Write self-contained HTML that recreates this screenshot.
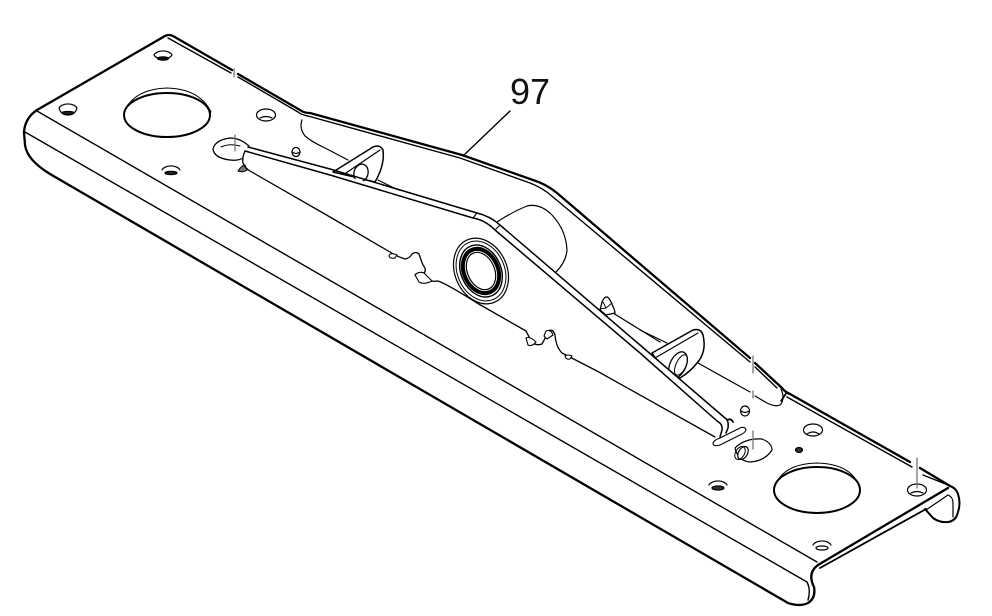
<!DOCTYPE html>
<html><head><meta charset="utf-8"><style>
html,body{margin:0;padding:0;background:#fff}
svg{display:block;filter:blur(.35px)}
text{font-family:"Liberation Sans",sans-serif}
</style></head><body>
<svg width="992" height="616" viewBox="0 0 992 616" xmlns="http://www.w3.org/2000/svg" fill="none" stroke="#000" stroke-linecap="round" stroke-linejoin="round">
<rect width="992" height="616" fill="#fff" stroke="none"/>

<!-- far flange hook (right end) -->
<path d="M925 509 L933 518 Q940 523 948 522 Q956 521 958 512 Q961 503 958 494 Q956 488 950 486" stroke-width="2" fill="#fff"/>
<path d="M948 495 Q953 497 953 503 L953 517" stroke-width="1.200"/>
<path d="M926 510 L948 495" stroke-width="1.200"/>

<!-- outer heavy outline -->
<g stroke-width="2.300">
<path d="M37 110 L165 36 Q169 34 173 36 L232 70 M238 74 L300 110 Q304 113 310 113 L462 155 L533 180 Q546 184 557 193 L750 358 M755 363 L782 388 Q785 392 790 394 L910 462 M920 468 L950 486"/>
<path d="M37 110 Q25 118 24 132 L25 145 Q27 160 50 174 L788 603 Q800 607 808 603 Q816 598 814 587 Q807 573 818 565 L948 488"/>
<path d="M820 568 L926 509" stroke-width="1.800"/>
</g>
<g stroke-width="1.400">
<path d="M37 111 L817 562"/>
<path d="M25 132 L807 582 Q811 590 808 600" />
<path d="M168 38 L231 73 M238 77 L298 112 Q302 115 308 116 L460 158 L530 183 Q543 188 553 197 L750 362 M755 367 L777 388"/>
<path d="M787 397 L912 467 M923 475 L948 485"/>
</g>

<!-- big holes -->
<ellipse cx="167" cy="115" rx="43" ry="22" stroke-width="2" fill="#fff"/>
<path d="M124 112 Q134 89 167 88 Q200 89 211 112" stroke-width="1.100"/>
<ellipse cx="817" cy="490" rx="43" ry="23" stroke-width="2" fill="#fff"/>
<path d="M774 490 Q780 464 817 463 Q854 464 860 490" stroke-width="1.100"/>

<!-- small holes -->
<g stroke-width="1.200">
<path d="M154 55 A9.500 6 0 0 1 172 55 A9.500 6 0 0 1 154 55Z" fill="#fff"/><ellipse cx="163" cy="58.500" rx="5.500" ry="1.700" fill="#111"/>
<path d="M59 108 A9.500 6 0 0 1 77 108" /><path d="M59 108 Q61 115 68 115 Q75 115 77 108"/><ellipse cx="68" cy="113" rx="6" ry="1.500" fill="#222"/>
<ellipse cx="266" cy="115" rx="9.500" ry="6"/><path d="M260 118 Q266 115 272 118"/>
<path d="M162 170 A9.500 6 0 0 1 180 170"/><ellipse cx="171" cy="173" rx="6" ry="1.600" fill="#222"/>
<path d="M709 485 A9.500 6 0 0 1 727 485"/><ellipse cx="718" cy="488" rx="6" ry="2" fill="#333"/>
<ellipse cx="813" cy="430" rx="9.500" ry="6"/><path d="M807 434 Q813 430 819 434"/>
<ellipse cx="917" cy="490" rx="9.500" ry="6"/><path d="M911 493 Q917 490 923 493"/>
<path d="M813 545 A9.500 6 0 0 1 831 545"/><ellipse cx="822" cy="548" rx="6" ry="2"/>
<ellipse cx="799" cy="450" rx="3.500" ry="2.500" fill="#333"/>
<ellipse cx="745" cy="411" rx="4.500" ry="5"/><path d="M741 411 Q745 414 749 411"/>
<ellipse cx="296" cy="152" rx="4" ry="4.500"/><path d="M292 152 Q296 155 300 152"/>
</g>

<!-- cut holes -->
<path d="M249 146 Q240 138 230 138 Q215 140 213 149 Q214 158 230 160 Q238 161 243 158" stroke-width="1.300" fill="#fff"/>
<path d="M221 147 Q230 143 240 146" stroke-width="1"/>
<path d="M238 171 Q241 166 245 165 L247 170 Q243 173 238 171Z" stroke-width="1" fill="#777"/>
<path d="M735 448 Q745 438 762 439 Q772 443 772 450 Q765 461 750 462 Q738 461 735 448Z" stroke-width="1.200" fill="#fff"/>
<ellipse cx="743" cy="453" rx="4.500" ry="7" transform="rotate(30 743 453)" stroke-width="1.200" fill="#fff"/>
<ellipse cx="740" cy="453" rx="4.500" ry="7" transform="rotate(30 740 453)" stroke-width="1"/>

<!-- lines behind arm -->
<g stroke-width="1.200">
<path d="M302 120 Q299 128 305 136 Q312 142 325 148 L348 160"/>
<path d="M378 180 L400 191"/>
<path d="M640 330 L667 343"/>
<path d="M698 363 L750 392 M755 396 L767 403 Q777 408 781 404 Q785 398 781 389"/>
<path d="M787 392 L781 401" stroke-width="1.600"/>
<path d="M613 313 L660 342"/>
</g>

<!-- upper bracket -->
<path d="M333 172 L373 147 Q380 144 383 150 Q385 165 375 182 L350 176Z" stroke-width="1.500" fill="#fff"/>
<path d="M346 173 L380 150" stroke-width="1.200"/>
<ellipse cx="361" cy="173" rx="7" ry="9" transform="rotate(15 361 173)" stroke-width="1.300" fill="#fff"/>
<!-- lower bracket -->
<path d="M652 353 L693 330 Q701 328 703 335 Q707 352 697 363 Q690 372 680 378 L665 372Z" stroke-width="1.500" fill="#fff"/>
<path d="M655 358 L698 333" stroke-width="1.200"/>
<ellipse cx="678" cy="365" rx="8" ry="14" transform="rotate(25 678 365)" stroke-width="1.300" fill="#fff"/>
<ellipse cx="681" cy="365" rx="5" ry="11" transform="rotate(25 681 365)" stroke-width="1"/>

<!-- cylinder -->
<path d="M497 222 Q512 212 527 206 Q540 203 552 215 Q566 230 567 250 Q566 262 556 272" stroke-width="1.200" fill="#fff"/>

<!-- arm body -->
<path d="M245 150 Q244 155 250 165 L385 250 L407 260 L415 252 L423 268 L415 277 L438 281 L527 333 L533 346 L555 337 L560 353 L640 396 L715 437 L728 420 L500 226 Q488 214 473 210 Z" fill="#fff" stroke="none"/>
<g stroke-width="1.500">
<path d="M248 147 L330 169 L477 213 Q490 216 500 225 L640 345 L725 418"/>
<path d="M245 151 L330 175 L473 218 Q485 220 495 230 L640 353 L717 421"/>
<path d="M477 213 L473 218 M500 225 L495 230" stroke-width="1.100"/>
</g>
<path d="M245 151 Q242 158 243 163 Q245 168 250 171 L330 217 L390 252 Q398 257 405 259 Q410 258 412 254 Q416 251 419 254 Q421 260 423 265 Q427 270 424 273 Q417 272 415 275 Q417 279 424 279 Q430 282 438 281 Q447 284 477 303 L526 331 Q529 336 531 342 Q536 346 542 344 Q546 337 548 331 Q553 328 555 335 Q556 347 562 353 L597 371 L715 437" stroke-width="1.300"/>
<g fill="#fff" stroke-width="1.100">
<path d="M389 256 Q390 252 397 255 L395 258 Q390 259 389 256Z"/>
<path d="M415 275 Q419 271 424 273 L432 281 Q424 285 419 282Z"/>
<path d="M526 338 Q530 336 536 342 Q532 347 528 345Z"/>
<path d="M546 331 Q551 329 553 335 L547 339 L544 336Z"/>
<path d="M565 356 Q568 354 572 356 L570 359 Q566 360 565 356Z"/>
</g>

<!-- nut -->
<path d="M602 302 Q606 293 610 300 Q615 310 615 313 L606 315 L600 310Z" fill="#fff" stroke-width="1.300"/>
<path d="M603 302 L606 308 L600 309 M606 308 L612 303" stroke-width="0.900"/>

<!-- arm tip -->
<path d="M717 421 Q723 424 722 430 L720 437 M725 418 Q729 420 728 428 L726 433" stroke-width="1.500"/>
<path d="M713 443 Q714 440 720 438 L740 428 Q745 426 746 430 Q745 433 740 435 L720 445 Q713 447 713 443Z" fill="#fff" stroke-width="1.100"/>
<path d="M727 420 Q731 418 733 422" stroke-width="1.800"/>

<!-- seal -->
<g transform="rotate(-24 481 271)">
<ellipse cx="481" cy="271" rx="26" ry="34" fill="#fff" stroke-width="1.200"/>
<ellipse cx="481" cy="271" rx="23.500" ry="31" stroke-width="1"/>
<ellipse cx="481" cy="271" rx="20" ry="27" stroke-width="1.400"/>
<ellipse cx="481" cy="271" rx="17" ry="23" stroke-width="4" fill="#fff"/>
<ellipse cx="481" cy="271" rx="13.500" ry="19.500" stroke-width="1.200" fill="#fff"/>
</g>

<!-- leader and centre ticks -->
<path d="M463 156 L510 111" stroke-width="1.400"/>
<g stroke="#777" stroke-width="1.300">
<path d="M234 69 L234 77"/>
<path d="M235 135 L235 151"/>
<path d="M753 356 L753 373 M753 391 L753 398 M753 431 L753 449"/>
<path d="M917 458 L917 488"/>
</g>
<text x="510" y="104" font-size="36" fill="#111" stroke="none">97</text>
</svg>
</body></html>
